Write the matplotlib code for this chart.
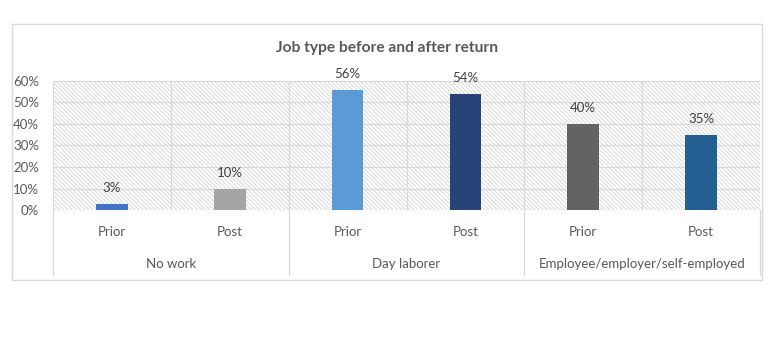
import matplotlib

matplotlib.use("Agg")
import matplotlib.pyplot as plt
from matplotlib.patches import Rectangle


GROUPS = ["No work", "Day laborer", "Employee/employer/self-employed"]
PERIODS = ["Prior", "Post"]
VALUES = [3, 10, 56, 54, 40, 35]  # percent, Prior/Post per group
COLORS = ["#4472c4", "#a5a5a5", "#5b9bd5", "#264478", "#636363", "#255e91"]
Y_TICKS = [0, 10, 20, 30, 40, 50, 60]

plt.rcParams["font.family"] = ["Lato", "DejaVu Sans"]
plt.rcParams["hatch.linewidth"] = 0.6
plt.rcParams["hatch.color"] = "#d4d4d4"

GRAY = "#595959"
LINE = "#d9d9d9"

fig = plt.figure(figsize=(7.8, 3.55), dpi=100)
ax = fig.add_axes([53 / 780, 1 - 210 / 355, 707 / 780, 129 / 355])

# outer chart border
fig.patches.append(Rectangle((12 / 780, 1 - 280 / 355), 750 / 780, 256 / 355,
                             transform=fig.transFigure, fill=False,
                             edgecolor=LINE, linewidth=1.0))

n = len(VALUES)
x = list(range(n))

# hatched plot area
ax.set_facecolor("white")
ax.add_patch(Rectangle((-0.5, 0), n, 60, facecolor="white", edgecolor="#d4d4d4",
                       hatch="\\" * 8, linewidth=0, zorder=0))

for y in Y_TICKS:
    ax.axhline(y, color=LINE, lw=0.9, zorder=1)
for b in range(n + 1):
    ax.axvline(b - 0.5, color=LINE, lw=0.9, zorder=1)

ax.bar(x, VALUES, width=0.27, color=COLORS, zorder=3)
for xi, v in zip(x, VALUES):
    ax.annotate(f"{v}%", (xi, v), xytext=(0, 7), textcoords="offset points",
                ha="center", va="bottom", fontsize=9.5, color="#404040")

ax.set_xlim(-0.5, n - 0.5)
ax.set_ylim(0, 60)
ax.set_yticks(Y_TICKS, labels=[f"{t}%" for t in Y_TICKS])
ax.tick_params(axis="y", length=0, pad=10, labelsize=9.5, labelcolor=GRAY)
ax.set_xticks([])
for s in ax.spines.values():
    s.set_visible(False)

# two-level category axis
tr = ax.get_xaxis_transform()
for i in range(n):
    ax.text(i, -0.17, PERIODS[i % 2], transform=tr, ha="center", va="center",
            fontsize=9.5, color=GRAY)
for g, name in enumerate(GROUPS):
    ax.text(2 * g + 0.5, -0.42, name, transform=tr, ha="center", va="center",
            fontsize=9.5, color=GRAY)
for b in range(0, n + 1, 2):
    ax.plot([b - 0.5, b - 0.5], [0, -0.5], transform=tr, color=LINE, lw=0.9,
            clip_on=False)

fig.text(387 / 780, 1 - 48 / 355, "Job type before and after return",
         ha="center", va="center", fontsize=11.2, color=GRAY, fontweight="bold")

fig.savefig("out.png", dpi=100, facecolor="white")
